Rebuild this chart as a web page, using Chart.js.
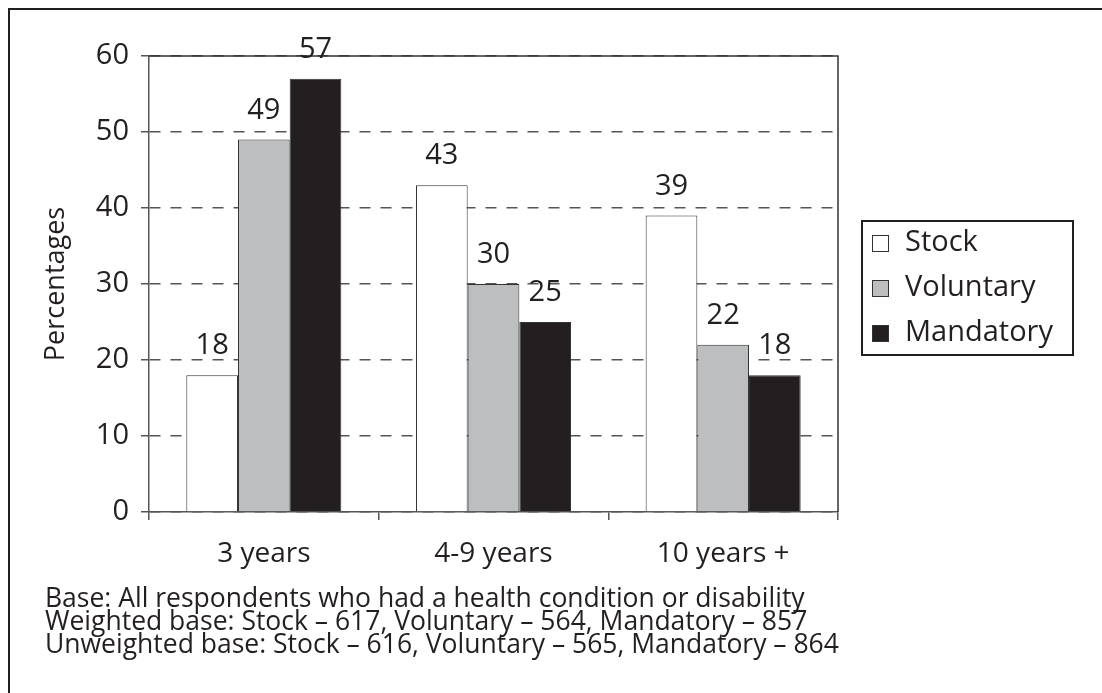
<!DOCTYPE html>
<html>
<head>
<meta charset="utf-8">
<script src="https://cdn.jsdelivr.net/npm/chart.js@4.4.1/dist/chart.umd.min.js"></script>
<style>
  html, body { margin: 0; padding: 0; background: #fff; }
  #wrap { position: relative; width: 1102px; height: 693px; overflow: hidden;
          font-family: "Open Sans", sans-serif; color: #231f20; }
  #frame { position: absolute; left: 8px; top: 8px; width: 1200px; height: 800px;
           border-left: 2px solid #231f20; border-top: 2px solid #231f20; }
  #chart { position: absolute; left: 0; top: 0; }
  #notes { position: absolute; left: 45px; top: 586px; font-size: 26.5px;
           line-height: 23px; white-space: nowrap; }
</style>
</head>
<body>
<div id="wrap">
  <div id="frame"></div>
  <canvas id="chart" width="1102" height="693"></canvas>
  <div id="notes"></div>
</div>
<script>
// Share of respondents by length of claim, per customer group
const categories = ['3 years', '4-9 years', '10 years +'];
const seriesNames = ['Stock', 'Voluntary', 'Mandatory'];
const stockValues = [18, 43, 39];
const voluntaryValues = [49, 30, 22];
const mandatoryValues = [57, 25, 18];
const yTickValues = [0, 10, 20, 30, 40, 50, 60];
const axisTitle = 'Percentages';
const noteLines = [
  'Base: All respondents who had a health condition or disability',
  'Weighted base: Stock \u2013 617, Voluntary \u2013 564, Mandatory \u2013 857',
  'Unweighted base: Stock \u2013 616, Voluntary \u2013 565, Mandatory \u2013 864'
];

const FONT = '"Open Sans", sans-serif';
const INK = '#231f20';
const AXIS = '#555555';

document.getElementById('notes').innerHTML =
  noteLines.map(t => '<div>' + t.replace(/&/g, '&amp;') + '</div>').join('');

// Outline on top and right edges of the plot area
const plotFrame = {
  id: 'plotFrame',
  beforeDatasetsDraw(chart) {
    const { ctx, chartArea: a } = chart;
    ctx.save();
    ctx.strokeStyle = '#333';
    ctx.lineWidth = 1.5;
    ctx.beginPath();
    ctx.moveTo(a.left, a.top);
    ctx.lineTo(a.right, a.top);
    ctx.lineTo(a.right, a.bottom);
    ctx.stroke();
    ctx.restore();
  }
};

// Value labels above each bar
const valueLabels = {
  id: 'valueLabels',
  afterDatasetsDraw(chart) {
    const { ctx } = chart;
    ctx.save();
    ctx.font = '29px ' + FONT;
    ctx.fillStyle = INK;
    ctx.textAlign = 'center';
    ctx.textBaseline = 'alphabetic';
    chart.data.datasets.forEach((ds, i) => {
      chart.getDatasetMeta(i).data.forEach((bar, j) => {
        ctx.fillText(String(ds.data[j]), bar.x, bar.y - 21);
      });
    });
    ctx.restore();
  }
};

// Boxed legend to the right of the plot
const boxLegend = {
  id: 'boxLegend',
  afterDraw(chart) {
    const { ctx } = chart;
    const bx = 862, by = 221, bw = 211, bh = 134;
    ctx.save();
    ctx.fillStyle = '#fff';
    ctx.fillRect(bx, by, bw, bh);
    ctx.strokeStyle = INK;
    ctx.lineWidth = 2;
    ctx.strokeRect(bx, by, bw, bh);
    ctx.font = '29px ' + FONT;
    ctx.textBaseline = 'middle';
    ctx.textAlign = 'left';
    chart.data.datasets.forEach((ds, i) => {
      const cy = 243 + i * 45;
      ctx.fillStyle = ds.backgroundColor;
      ctx.fillRect(872, cy - 8, 17, 17);
      ctx.strokeStyle = '#333';
      ctx.lineWidth = 1;
      ctx.strokeRect(872.5, cy - 7.5, 16, 16);
      ctx.fillStyle = INK;
      ctx.fillText(ds.label, 905, cy);
    });
    ctx.restore();
  }
};

new Chart(document.getElementById('chart'), {
  type: 'bar',
  data: {
    labels: categories,
    datasets: [
      { label: seriesNames[0], data: stockValues, backgroundColor: '#ffffff' },
      { label: seriesNames[1], data: voluntaryValues, backgroundColor: '#bcbec0' },
      { label: seriesNames[2], data: mandatoryValues, backgroundColor: INK }
    ].map(d => Object.assign(d, {
      borderColor: '#333333',
      borderWidth: 1,
      categoryPercentage: 0.675,
      barPercentage: 1
    }))
  },
  options: {
    responsive: false,
    animation: false,
    devicePixelRatio: 1,
    layout: { padding: { left: 0, top: 56, right: 264, bottom: 121 } },
    plugins: {
      legend: { display: false },
      tooltip: { enabled: false }
    },
    scales: {
      x: {
        grid: { drawOnChartArea: false, tickLength: 8, color: AXIS, lineWidth: 1.5 },
        border: { color: AXIS, width: 1.5 },
        ticks: { font: { family: FONT, size: 28 }, color: INK, padding: 17 },
        afterFit(s) { s.height = 60; }
      },
      y: {
        min: 0,
        max: 60,
        afterBuildTicks(s) { s.ticks = yTickValues.map(v => ({ value: v })); },
        grid: { color: AXIS, lineWidth: 1.5, tickLength: 8 },
        border: { color: AXIS, width: 1.5, dash: [11, 10] },
        ticks: { font: { family: FONT, size: 29 }, color: INK, padding: 12 },
        title: {
          display: true,
          text: axisTitle,
          font: { family: FONT, size: 27 },
          color: INK,
          padding: { top: 40, bottom: 0 }
        },
        afterFit(s) { s.width = 149; }
      }
    }
  },
  plugins: [plotFrame, valueLabels, boxLegend]
});
</script>
</body>
</html>
